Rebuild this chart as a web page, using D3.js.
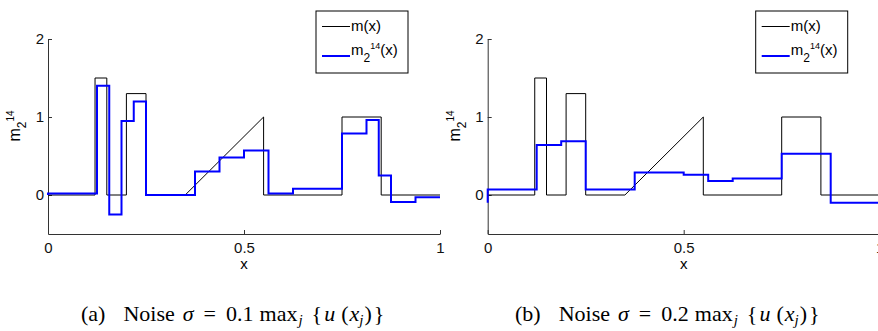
<!DOCTYPE html>
<html>
<head>
<meta charset="utf-8">
<script src="https://cdn.jsdelivr.net/npm/d3@7"></script>
<style>
  body { margin: 0; background: #fff; }
  svg { display: block; }
</style>
</head>
<body>
<svg id="chart"></svg>
<script>
// true function m(x), piecewise linear corner points
var trueX = [0, 0.12, 0.12, 0.15, 0.15, 0.2, 0.2, 0.25, 0.25, 0.35, 0.55, 0.55, 0.75, 0.75, 0.85, 0.85, 1];
var trueY = [0, 0, 1.5, 1.5, 0, 0, 1.3, 1.3, 0, 0, 1, 0, 0, 1, 1, 0, 0];

// estimate m_2^14(x), step edges and values (a) and (b)
var leftEdges = [0, 0.125, 0.15625, 0.1875, 0.21875, 0.25, 0.375, 0.4375, 0.5, 0.5625, 0.625, 0.75, 0.8125, 0.84375, 0.875, 0.9375, 1];
var leftVals = [0.02, 1.40, -0.25, 0.95, 1.20, 0.00, 0.30, 0.48, 0.57, 0.02, 0.08, 0.79, 0.96, 0.25, -0.09, -0.03];
var leftStart = 0.0;

var rightEdges = [0, 0.125, 0.1875, 0.25, 0.375, 0.5, 0.5625, 0.625, 0.75, 0.875, 1];
var rightVals = [0.07, 0.64, 0.69, 0.07, 0.29, 0.26, 0.18, 0.21, 0.53, -0.10];
var rightStart = -0.10;

var xTicks = [0, 0.5, 1];
var yTicks = [0, 1, 2];
var captions = ["a", "b"];
var noiseLevels = ["0.1", "0.2"];

var width = 878;
var height = 331;

var svg = d3.select('#chart')
    .attr('width', width)
    .attr('height', height);

var panels = [
    {left: 48, edges: leftEdges, vals: leftVals, start: leftStart, capX: 81},
    {left: 487.7, edges: rightEdges, vals: rightVals, start: rightStart, capX: 515}
];

var sans = "Arial, 'Liberation Sans', Helvetica, sans-serif";
var serif = "'Times New Roman', 'Liberation Serif', Times, serif";

var x = d3.scaleLinear().domain([0, 1]).range([0, 392]);
var y = d3.scaleLinear().domain([-0.5, 2]).range([234, 39]);

function stepPoints(edges, vals, start) {
    var pts = [[0, start]];
    vals.forEach(function(v, i) { pts.push([edges[i], v]); });
    pts.push([edges[edges.length - 1], vals[vals.length - 1]]);
    return pts;
}

panels.forEach(function(p, k) {
    var g = svg.append('g')
        .attr('transform', `translate(${p.left}, 0)`);

    // axes, matlab style ticks pointing inward
    var xAxis = g.append('g')
        .attr('transform', `translate(0, ${y(-0.5)})`)
        .call(d3.axisBottom(x).tickValues(xTicks).tickSizeInner(-4).tickSizeOuter(0)
              .tickFormat(d3.format('')));
    var yAxis = g.append('g')
        .call(d3.axisLeft(y).tickValues(yTicks).tickSizeInner(-4).tickSizeOuter(0)
              .tickFormat(d3.format('d')));

    [xAxis, yAxis].forEach(function(a) {
        a.attr('font-family', null).attr('font-size', null);
        a.select('.domain').attr('stroke', '#333');
        a.selectAll('.tick line').attr('stroke', '#333');
        a.selectAll('text')
            .style('font-family', sans)
            .style('font-size', '15px')
            .attr('fill', '#111');
    });
    xAxis.selectAll('text').attr('y', 8);
    yAxis.selectAll('text').attr('x', -4);

    // true function
    var line = d3.line()
        .x(function(d) { return x(d[0]); })
        .y(function(d) { return y(d[1]); });
    g.append('path')
        .datum(trueX.map(function(v, i) { return [v, trueY[i]]; }))
        .attr('d', line)
        .attr('fill', 'none')
        .attr('stroke', 'black')
        .attr('stroke-width', 1);

    // estimate
    g.append('path')
        .datum(stepPoints(p.edges, p.vals, p.start))
        .attr('d', line.curve(d3.curveStepAfter))
        .attr('fill', 'none')
        .attr('stroke', '#0000ff')
        .attr('stroke-width', 2);

    // axis labels
    g.append('text')
        .attr('x', x(0.5))
        .attr('y', 269)
        .attr('text-anchor', 'middle')
        .style('font-family', sans)
        .style('font-size', '15px')
        .text('x');

    var yl = g.append('text')
        .attr('transform', 'translate(-28, 126) rotate(-90)')
        .attr('text-anchor', 'middle')
        .style('font-family', sans)
        .style('font-size', '16px');
    yl.append('tspan').text('m');
    yl.append('tspan').attr('dy', 6).style('font-size', '12px').text('2');
    yl.append('tspan').attr('dy', -12).style('font-size', '10px').text('14');

    // legend
    var lg = g.append('g').attr('transform', `translate(${x(1) - 124}, 11)`);
    lg.append('rect')
        .attr('width', 92).attr('height', 62)
        .attr('fill', 'white').attr('stroke', 'black').attr('stroke-width', 1);
    lg.append('line')
        .attr('x1', 6).attr('x2', 34).attr('y1', 15.5).attr('y2', 15.5)
        .attr('stroke', 'black');
    lg.append('line')
        .attr('x1', 6).attr('x2', 34).attr('y1', 45).attr('y2', 45)
        .attr('stroke', '#0000ff').attr('stroke-width', 2);
    lg.append('text')
        .attr('x', 35).attr('y', 20)
        .style('font-family', sans).style('font-size', '15px')
        .text('m(x)');
    var l2 = lg.append('text')
        .attr('x', 35).attr('y', 44)
        .style('font-family', sans).style('font-size', '15px');
    l2.append('tspan').text('m');
    l2.append('tspan').attr('dy', 7).style('font-size', '12px').text('2');
    l2.append('tspan').attr('dy', -13).style('font-size', '9px').text('14');
    l2.append('tspan').attr('dy', 6).text('(x)');

    // caption, math spacing done with dx
    var cap = svg.append('text')
        .attr('x', p.capX).attr('y', 321)
        .style('font-family', serif)
        .style('font-size', '22px');
    var parts = [
        ['(' + captions[k] + ')', 0, 0],
        ['Noise', 18, 0],
        ['\u03c3', 8, 0, 'i'],
        ['=', 10, 0],
        [noiseLevels[k], 10, 0],
        ['max', 6, 0],
        ['j', 1, 4, 'i', 's'],
        ['{', 9, -4],
        ['u', 2, 0, 'i'],
        ['(', 6, 0],
        ['x', 1, 0, 'i'],
        ['j', 0, 4, 'i', 's'],
        [')', 1, -4],
        ['}', 2, 0]
    ];
    parts.forEach(function(t) {
        var ts = cap.append('tspan').attr('dx', t[1]).attr('dy', t[2]).text(t[0]);
        if (t[3]) ts.style('font-style', 'italic');
        if (t[4]) ts.style('font-size', '15px');
    });
});
</script>
</body>
</html>
